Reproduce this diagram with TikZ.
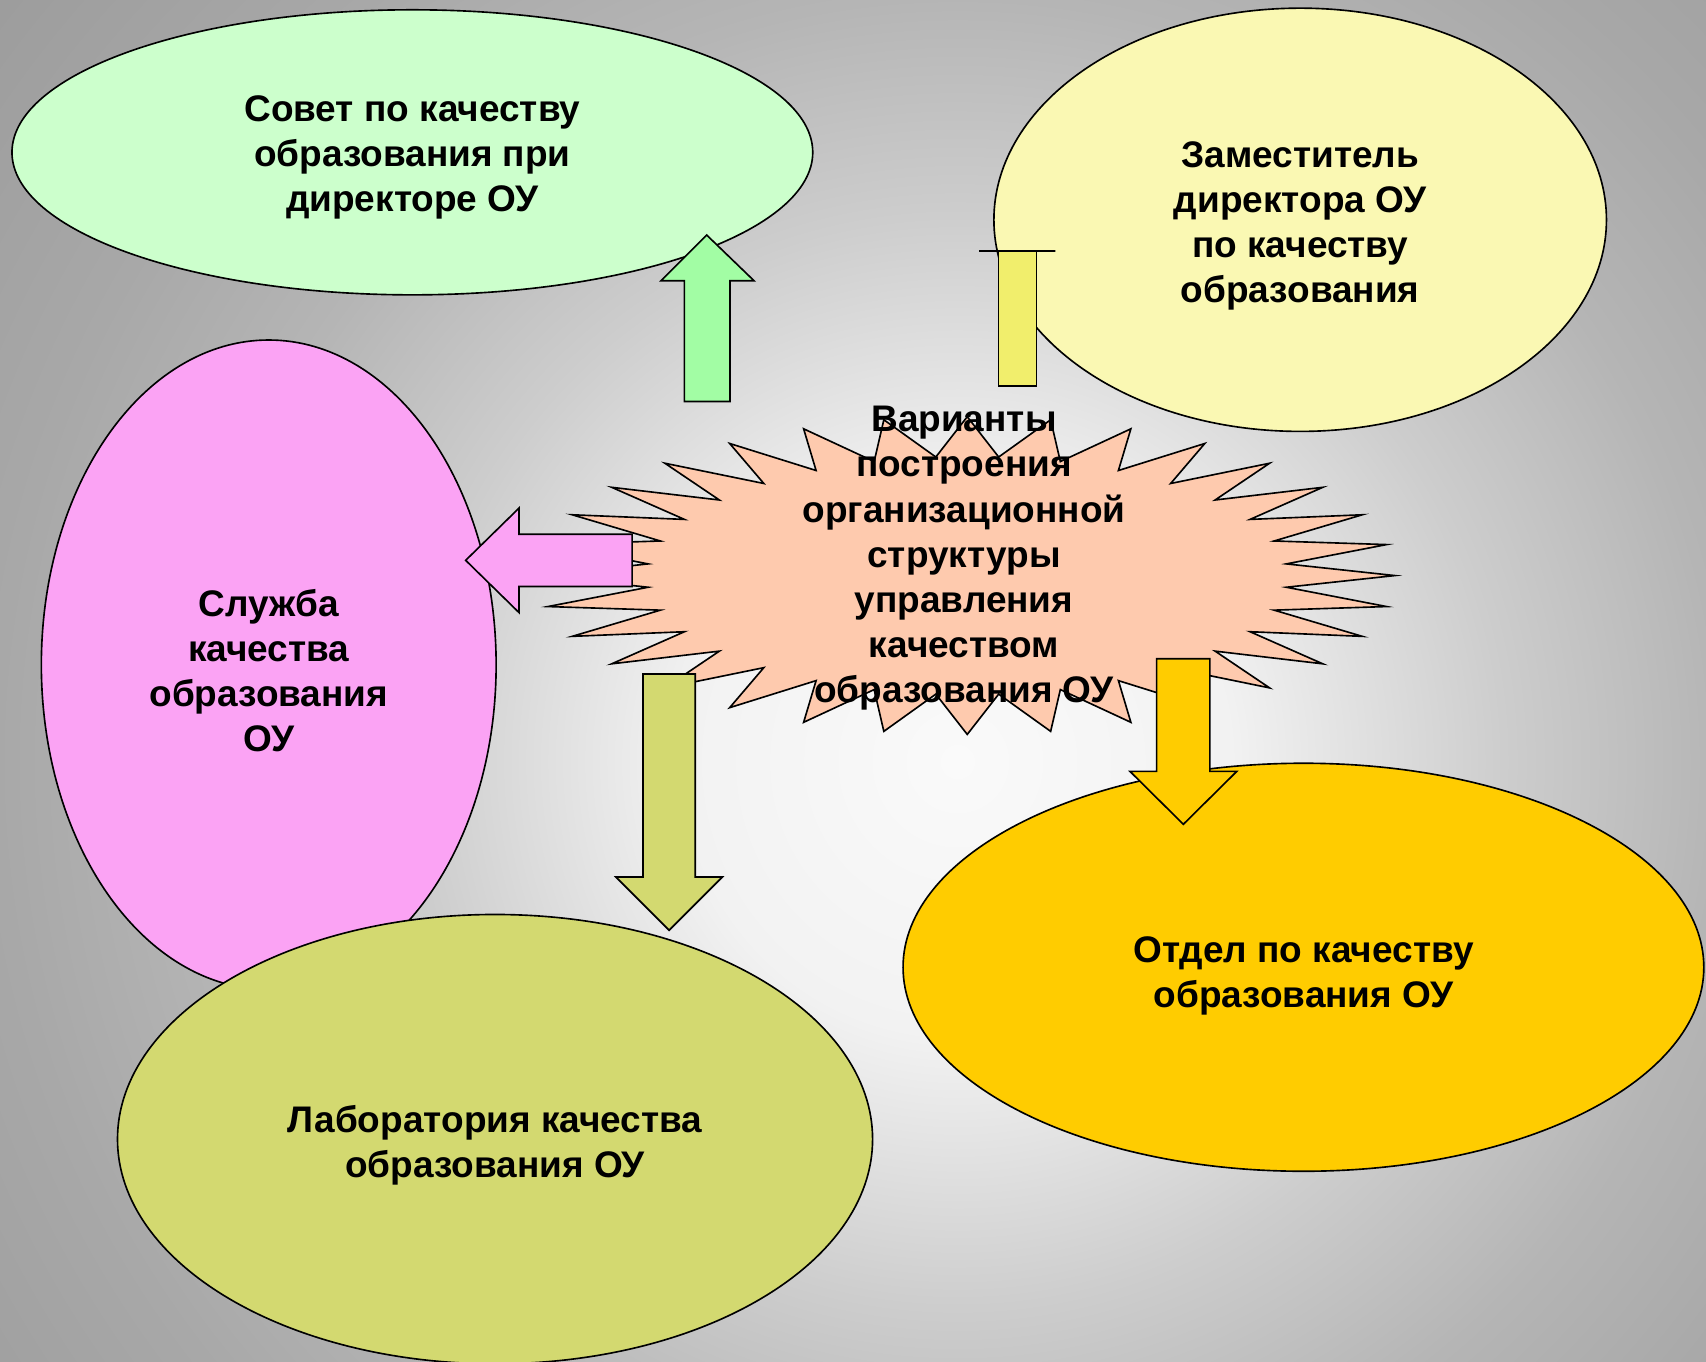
\documentclass[tikz,border=0pt]{standalone}
\usepackage{fontspec}
\setmainfont{Liberation Sans}
\usetikzlibrary{shapes.geometric}
\definecolor{bgA}{HTML}{FAFAFA}
\definecolor{bgB}{HTML}{F2F2F2}
\definecolor{bgC}{HTML}{CDCDCD}
\definecolor{bgD}{HTML}{B5B5B5}
\definecolor{bgE}{HTML}{A8A8A8}
\definecolor{bgF}{HTML}{999999}
\definecolor{cgreen}{HTML}{CCFFCC}
\definecolor{cgreenarr}{HTML}{A2FDA4}
\definecolor{cyell}{HTML}{FAF8B3}
\definecolor{cyellarr}{HTML}{F1EE6C}
\definecolor{cpink}{HTML}{FBA3F4}
\definecolor{colive}{HTML}{D3D970}
\definecolor{corange}{HTML}{FFCC00}
\definecolor{csalm}{HTML}{FECAAE}
\definecolor{cfade}{HTML}{EDEDED}
\pgfdeclareradialshading{bgshade}{\pgfpoint{0bp}{0bp}}{color(0bp)=(bgA); color(250bp)=(bgB); color(500bp)=(bgC); color(700bp)=(bgD); color(880bp)=(bgE); color(1200bp)=(bgF)}
\pgfdeclarehorizontalshading{starfade}{100bp}{color(0bp)=(cfade); color(5bp)=(cfade); color(13bp)=(csalm); color(87bp)=(csalm); color(95bp)=(cfade); color(100bp)=(cfade)}
\tikzset{
  txt/.style={font=\fontsize{34}{41.4}\selectfont\bfseries, align=center, text=black, inner sep=0pt},
  oval/.style={ellipse, draw=black, line width=1.5pt, inner sep=0pt},
  blockarr/.style={draw=black, line width=1.5pt, line join=miter},
}
\begin{document}
\begin{tikzpicture}[x=1pt,y=-1pt]
\useasboundingbox (0,0) rectangle (1568,1251);
% background
\begin{scope}
\clip (0,0) rectangle (1568,1251);
\node[inner sep=0pt] (bg) at (880,700) {\pgfuseshading{bgshade}};
\end{scope}
% ellipses
\node[oval, fill=cgreen, minimum width=736, minimum height=262] (sovet) at (379,140) {};
\node[txt] (sovettxt) at (379,145) {Совет по качеству\\образования при\\директоре ОУ};
\node[oval, fill=cyell, minimum width=563, minimum height=389] (zam) at (1195,202) {};
\node[txt] (zamtxt) at (1195,208) {Заместитель\\директора ОУ\\по качеству\\образования};
\node[oval, fill=cpink, minimum width=418, minimum height=597] (sluzhba) at (247,611) {};
\node[txt] (sluzhbatxt) at (247,616) {Служба\\качества\\образования\\ОУ};
\node[oval, fill=colive, minimum width=694, minimum height=413] (lab) at (455,1047) {};
\node[txt] (labtxt) at (455,1053) {Лаборатория качества\\образования ОУ};
\node[oval, fill=corange, minimum width=736, minimum height=375] (otdel) at (1198,889) {};
\node[txt] (otdeltxt) at (1198,897) {Отдел по качеству\\образования ОУ};
% star
\path[shade, shading=starfade, draw=black, line width=1.5pt, line join=miter]
  plot[samples at={0,...,63}] ({889+393*(1-0.25*mod(\x,2))*cos(\x*5.625)}, {529-146*(1-0.25*mod(\x,2))*sin(\x*5.625)}) -- cycle;
\coordinate (star) at (889,529);
% green up arrow
\draw[blockarr, fill=cgreenarr] (629,369) -- (629,258) -- (607.5,258) -- (649.5,216) -- (693,258) -- (671,258) -- (671,369) -- cycle;
% yellow flat arrow
\draw[blockarr, fill=cyellarr] (917.6,354.8) -- (917.6,230.4) -- (900,230.4) -- (970,230.4) -- (952.8,230.4) -- (952.8,354.8) -- cycle;
% pink left arrow
\draw[blockarr, fill=cpink] (581,491) -- (477,491) -- (477,467) -- (428,515) -- (477,563) -- (477,539) -- (581,539) -- cycle;
% olive down arrow
\draw[blockarr, fill=colive] (591,619.5) -- (639,619.5) -- (639,806) -- (664,806) -- (615,855) -- (566,806) -- (591,806) -- cycle;
% orange down arrow
\draw[blockarr, fill=corange] (1063,605.5) -- (1112,605.5) -- (1112,709) -- (1136.7,709) -- (1087.6,757.6) -- (1038.6,709) -- (1063,709) -- cycle;
% star text
\node[txt] (startext) at (886,513)
  {Варианты\\построения\\организационной\\структуры\\управления\\качеством\\образования ОУ};
\end{tikzpicture}
\end{document}
